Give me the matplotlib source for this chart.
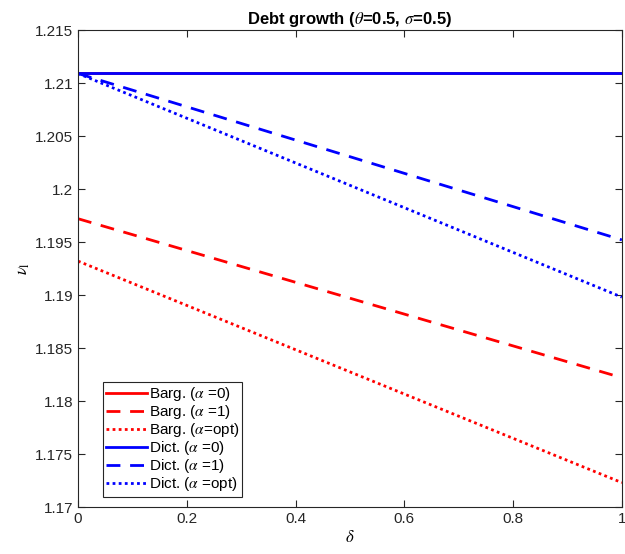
import matplotlib
matplotlib.use('Agg')
import matplotlib.pyplot as plt
import numpy as np

plt.rcParams['font.family'] = ['Liberation Sans', 'DejaVu Sans']
plt.rcParams['mathtext.fontset'] = 'stix'

# data (lines are straight, so the end points are enough)
delta = [0.0, 1.0]
barg_a0 = [1.2109, 1.2109]
barg_a1 = [1.1972, 1.1822]
barg_opt = [1.1932, 1.1723]
dict_a0 = [1.2109, 1.2109]
dict_a1 = [1.2109, 1.1952]
dict_opt = [1.2109, 1.1898]

labels = [r'Barg. ($\alpha$ =0)', r'Barg. ($\alpha$ =1)', r'Barg. ($\alpha$=opt)',
          r'Dict. ($\alpha$ =0)', r'Dict. ($\alpha$ =1)', r'Dict. ($\alpha$ =opt)']

fig = plt.figure(figsize=(6.25, 5.54), dpi=100)
ax = fig.add_axes([0.1248, 0.0848, 0.8702, 0.861])

lw = 2.0
ax.plot(delta, barg_a0, color='red', lw=lw, ls='-', label=labels[0])
ax.plot(delta, barg_a1, color='red', lw=lw, ls=(0, (5, 3.5)), label=labels[1])
ax.plot(delta, barg_opt, color='red', lw=lw, ls=(0, (1, 1.2)), label=labels[2])
ax.plot(delta, dict_a0, color='blue', lw=lw, ls='-', label=labels[3])
ax.plot(delta, dict_a1, color='blue', lw=lw, ls=(0, (5, 3.5)), label=labels[4])
ax.plot(delta, dict_opt, color='blue', lw=lw, ls=(0, (1, 1.2)), label=labels[5])

ax.set_xlim(0, 1)
ax.set_ylim(1.17, 1.215)
ax.set_xticks([0, 0.2, 0.4, 0.6, 0.8, 1])
ax.set_xticklabels(['0', '0.2', '0.4', '0.6', '0.8', '1'])
yt = [1.17, 1.175, 1.18, 1.185, 1.19, 1.195, 1.2, 1.205, 1.21, 1.215]
ax.set_yticks(yt)
ax.set_yticklabels(['1.17', '1.175', '1.18', '1.185', '1.19', '1.195', '1.2', '1.205', '1.21', '1.215'])
ax.tick_params(direction='in', top=True, right=True, labelsize=11, colors='#262626', length=5, width=0.8)
for s in ax.spines.values():
    s.set_color('#262626')
    s.set_linewidth(0.8)

ax.set_xlabel(r'$\delta$', fontsize=12, labelpad=2)
ax.set_ylabel(r'$\nu_{\rm l}$', fontsize=12, labelpad=2)
ax.set_title(r'Debt growth ($\theta$=0.5, $\sigma$=0.5)', fontsize=12, fontweight='bold', pad=4)

leg = ax.legend(loc='lower left', bbox_to_anchor=(0.046, 0.022), fontsize=11, frameon=True,
                fancybox=False, edgecolor='#262626', framealpha=1, handlelength=2.7,
                handletextpad=0.1, borderpad=0.2, labelspacing=0.0, borderaxespad=0)
leg.get_frame().set_linewidth(0.8)

fig.savefig('out.png', dpi=100)
